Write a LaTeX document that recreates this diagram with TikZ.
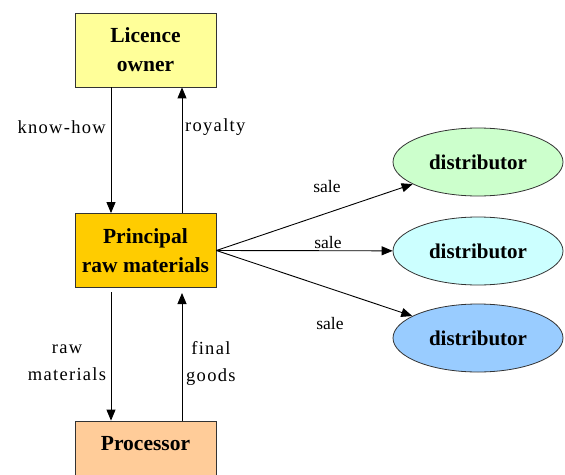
\documentclass[tikz,border=0pt]{standalone}
\usepackage{fontspec}
\setmainfont{Liberation Serif}
\newfontfamily\lblfont[LetterSpace=7]{Liberation Serif}
\usetikzlibrary{arrows.meta,shapes.geometric}
\definecolor{licfill}{HTML}{FFFF99}
\definecolor{prinfill}{HTML}{FFCC00}
\definecolor{procfill}{HTML}{FFCC99}
\definecolor{distA}{HTML}{CCFFCC}
\definecolor{distB}{HTML}{CCFFFF}
\definecolor{distC}{HTML}{99CCFF}
\tikzset{
  box/.style={draw=black!80, line width=0.8pt, minimum width=141pt, minimum height=74pt,
    align=center, font=\fontsize{21.5}{29}\selectfont\bfseries, inner sep=0pt},
  dist/.style={ellipse, draw=black!80, line width=0.8pt, minimum width=170pt, minimum height=68pt,
    font=\fontsize{21}{24}\selectfont\bfseries, inner sep=0pt},
  flow/.style={-{Triangle[length=11pt,width=9pt]}, line width=0.9pt},
  lbl/.style={font=\lblfont\fontsize{18.5}{27}\selectfont, inner sep=0pt, align=center},
  slbl/.style={font=\fontsize{17.5}{20}\selectfont, inner sep=0pt}
}
\begin{document}
\begin{tikzpicture}[x=1pt,y=-1pt]
\useasboundingbox (0,0) rectangle (565,474);
\begin{scope}
\clip (0,0) rectangle (565,474);
\node[box, fill=licfill] (lic) at (145.5,50) {Licence\\owner};
\node[box, fill=prinfill] (prin) at (145.5,250.5) {Principal\\raw materials};
\node[box, fill=procfill] (proc) at (145.5,458) {};
\node[font=\fontsize{21.5}{24}\selectfont\bfseries] (proctxt) at (145.5,444) {Processor};
\node[dist, fill=distA] (d1) at (478,162) {distributor};
\node[dist, fill=distB] (d2) at (478,251) {distributor};
\node[dist, fill=distC] (d3) at (478,338) {distributor};
\end{scope}

% licence owner <-> principal
\draw[flow] (lic.south -| 111,0) -- (prin.north -| 111,0);
\draw[flow] (prin.north -| 182,0) -- (lic.south -| 182,0);
\node[lbl, anchor=east] (kh) at (106,127) {know-how};
\node[lbl, anchor=west] (roy) at (185,127) {royalty};

% principal <-> processor
\coordinate (pb1) at (111,292);
\coordinate (pb2) at (182,293);
\draw[flow] (pb1) -- (proc.north -| pb1);
\draw[flow] (proc.north -| pb2) -- (pb2);
\node[lbl] (rm) at (67,363) {raw\\materials};
\node[lbl, anchor=west] (fg) at (186,363) {final\\goods};

% sales to distributors
\draw[flow] (prin.east) -- (d1);
\draw[flow] (prin.east) -- (d2);
\draw[flow] (prin.east) -- (d3);
\node[slbl] (s1) at (327,187) {sale};
\node[slbl] (s2) at (328,243) {sale};
\node[slbl] (s3) at (330,324) {sale};
\end{tikzpicture}
\end{document}
